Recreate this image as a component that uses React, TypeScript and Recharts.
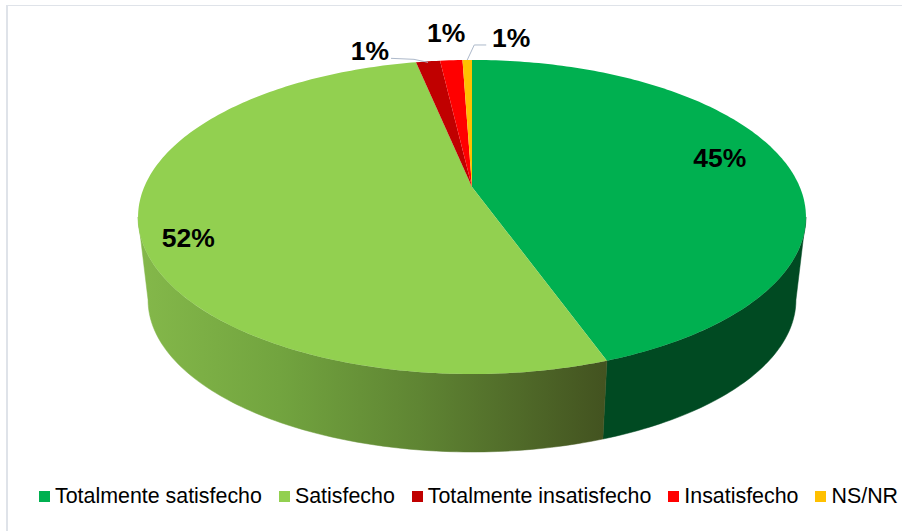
import React from "react";
import { PieChart, Pie, Legend } from "recharts";

const categories = ["Totalmente satisfecho", "Satisfecho", "Totalmente insatisfecho", "Insatisfecho", "NS/NR"];
const values = [44.52, 52.23, 1.4, 1.3, 0.55];
const colors = ["#00B050", "#92D050", "#C00000", "#FF0000", "#FFC000"];
const wallFills = ["#004A22", "url(#wallGreen)", "#600000", "#800000", "#806000"];
const labelOffsets = [[-65, -4], [49, 8], [-58, -10], [-5, -27], [44, -22]];
const tableData = categories.map((name, i) => ({ name, value: values[i], fill: colors[i] }));

const CX = 472;
const CY = 187;
const K = 0.191;
const A = 327.8;
const B = 151.3;
const WALL_SCALE_X = 0.97;
const WALL_SCALE_Y = 0.968;
const TOP_MID = 217;
const BOTTOM_MID = 300;
const WALL_EDGE = 101; // degrees clockwise from top where the rim turns away

const rad = (d: number) => (d * Math.PI) / 180;

// Projects a point of the flat pie onto the tilted disc.
function rim(theta: number) {
  const u = Math.sin(rad(theta));
  const v = -Math.cos(rad(theta));
  const d = 1 - K * v;
  return { x: CX + (A * u) / d, y: CY + (B * v) / d };
}
function lower(theta: number) {
  const p = rim(theta);
  return { x: CX + (p.x - CX) * WALL_SCALE_X, y: BOTTOM_MID + (p.y - TOP_MID) * WALL_SCALE_Y };
}
function samples(a: number, b: number) {
  const out: number[] = [];
  const n = Math.max(2, Math.ceil(Math.abs(b - a) / 1));
  for (let i = 0; i <= n; i++) out.push(a + ((b - a) * i) / n);
  return out;
}
const fmt = (p: { x: number; y: number }) => `${p.x.toFixed(2)},${p.y.toFixed(2)}`;

function Slice3D(props: any) {
  const { startAngle, endAngle, fill, index } = props;
  const t0 = 90 - startAngle;
  const t1 = 90 - endAngle;
  const top = samples(t0, t1).map(rim);
  const face = `M${CX},${CY} L${top.map(fmt).join(" L")} Z`;
  const w0 = Math.max(t0, WALL_EDGE);
  const w1 = Math.min(t1, 360 - WALL_EDGE);
  let wall = "";
  if (w1 > w0) {
    const arc = samples(w0, w1);
    wall = `M${arc.map(rim).map(fmt).join(" L")} L${[...arc].reverse().map(lower).map(fmt).join(" L")} Z`;
  }
  return (
    <g>
      {wall && <path d={wall} fill={wallFills[index]} stroke={wallFills[index]} strokeWidth={0.5} />}
      <path d={face} fill={fill} />
    </g>
  );
}

function SliceLabel(props: any) {
  const { midAngle, percent, index } = props;
  const p = rim(90 - midAngle);
  const [dx, dy] = labelOffsets[index];
  const pct = `${Math.round(percent * 100)}%`;
  const x = p.x + dx;
  const y = p.y + dy;
  let leader: string | null = null;
  if (index === 2) leader = `M${x + 21},${y + 7} L${x + 44},${y + 8} L${p.x},${p.y + 1}`;
  if (index === 4) leader = `M${p.x},${p.y} L${p.x + 7},${p.y - 15} L${p.x + 19},${p.y - 15}`;
  return (
    <g>
      {leader && <path d={leader} fill="none" stroke="#ADB9CA" strokeWidth={1} />}
      <text x={x} y={y} textAnchor="middle" dominantBaseline="central" fontFamily="'Liberation Sans', Arial, sans-serif" fontWeight="bold" fontSize={26.5} fill="#000">
        {pct}
      </text>
    </g>
  );
}

function LegendRow(props: any) {
  const { payload } = props;
  return (
    <div style={{ display: "flex", justifyContent: "flex-start", paddingLeft: 39, gap: 17, fontFamily: "'Liberation Sans', Arial, sans-serif", fontSize: 21.4, color: "#000", whiteSpace: "nowrap", lineHeight: "22px" }}>
      {(payload || []).map((e: any) => (
        <div key={e.value} style={{ display: "flex", alignItems: "center", gap: 5 }}>
          <span style={{ width: 11, height: 11, background: e.color, display: "inline-block" }} />
          <span>{e.value}</span>
        </div>
      ))}
    </div>
  );
}

export default function App() {
  return (
    <div style={{ position: "absolute", left: 0, top: 0, width: 902, height: 531, background: "#fff", overflow: "hidden" }}>
      <div style={{ position: "absolute", left: 6, top: 5, width: 896, height: 526, borderLeft: "2px solid #DFE3E9", borderTop: "1px solid #DFE3E9", boxSizing: "border-box" }} />
      <PieChart width={902} height={531} margin={{ top: 0, right: 0, bottom: 0, left: 0 }} style={{ position: "absolute", left: 0, top: 0 }}>
        <defs>
          <linearGradient id="wallGreen" gradientUnits="userSpaceOnUse" x1={140} y1={0} x2={604} y2={0}>
            <stop offset="0" stopColor="#84B84A" />
            <stop offset="0.3" stopColor="#72A43F" />
            <stop offset="0.6" stopColor="#5F8533" />
            <stop offset="1" stopColor="#435320" />
          </linearGradient>
        </defs>
        <Pie
          data={tableData}
          dataKey="value"
          nameKey="name"
          cx={CX}
          cy={CY}
          outerRadius={150}
          startAngle={90}
          endAngle={-270}
          stroke="none"
          isAnimationActive={false}
          shape={Slice3D}
          label={SliceLabel}
          labelLine={false}
        />
        <Legend content={LegendRow} itemSorter={null} verticalAlign="bottom" wrapperStyle={{ left: 0, width: 902, bottom: 24 }} />
      </PieChart>
    </div>
  );
}
